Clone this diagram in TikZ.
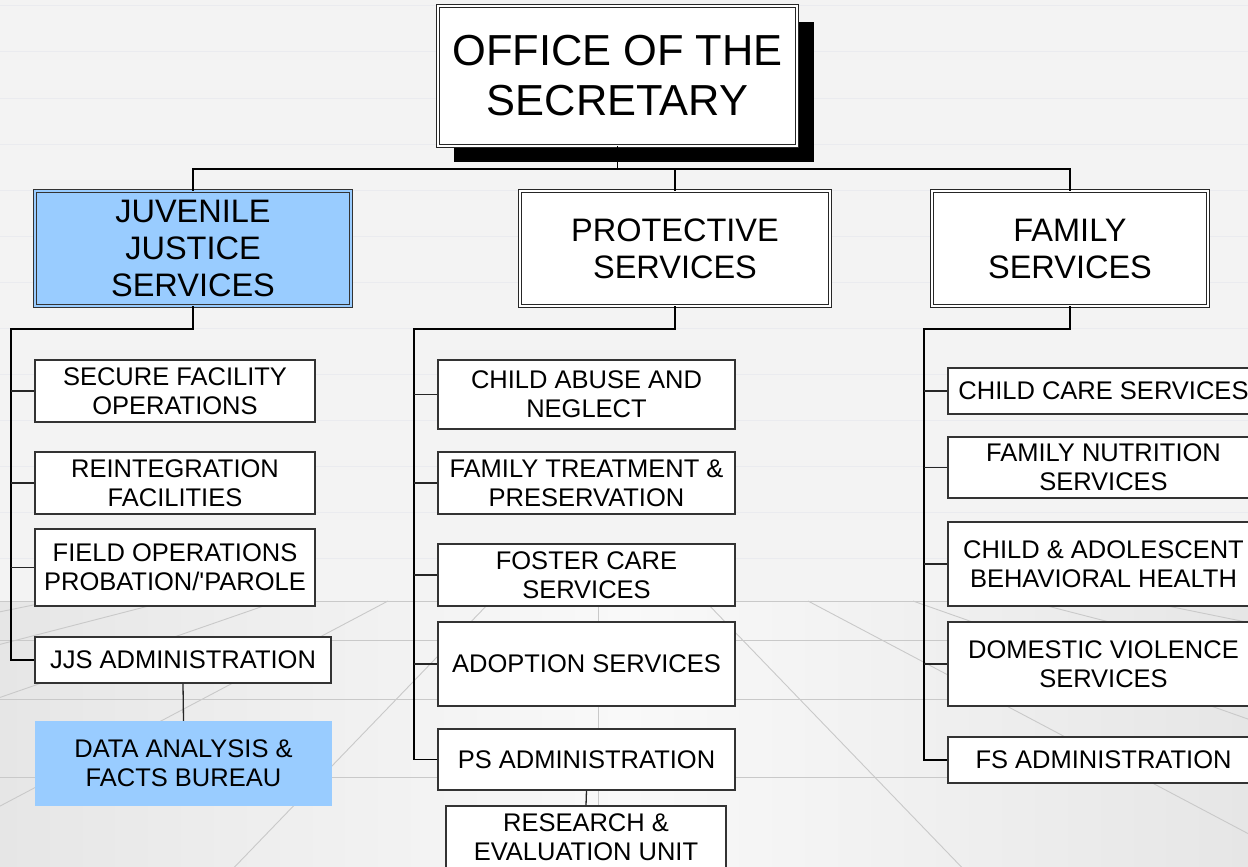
\documentclass[tikz,border=0pt]{standalone}
\usepackage{fontspec}
\setmainfont{Liberation Sans}
\definecolor{bgtop}{HTML}{F3F3F3}
\definecolor{floorside}{HTML}{E6E6E6}
\definecolor{floormid}{HTML}{F9F9F9}
\definecolor{gridc}{HTML}{C9C9C9}
\definecolor{toplinec}{HTML}{EAEBEF}
\definecolor{jjsblue}{HTML}{99CCFF}
\tikzset{
  conn/.style={draw=black, line width=1.4pt},
  tickline/.style={draw=black!85, line width=1.3pt},
  gridline/.style={draw=gridc, line width=0.9pt},
  topline/.style={draw=toplinec, line width=1pt},
  lvlthree/.style={rectangle, draw=black!80, line width=1.1pt, fill=white, inner sep=0pt, align=center, font={\fontsize{25.5}{29}\selectfont}},
  lvltwo/.style={rectangle, draw=black!85, line width=0.8pt, double=white, double distance=2pt, fill=white, inner sep=0pt, align=center, font={\fontsize{32.5}{37}\selectfont}},
  topbox/.style={rectangle, draw=black!85, line width=0.8pt, double=white, double distance=2pt, fill=white, inner sep=0pt, align=center, font={\fontsize{43.4}{50}\selectfont}},
}
\begin{document}
\begin{tikzpicture}[x=1pt,y=-1pt]
\useasboundingbox (0,0) rectangle (1248,867);
\clip (0,0) rectangle (1248,867);
% background
\fill[bgtop] (0,0) rectangle (1248,867);
\foreach \yy in {6,52,98,144,190,236,282,328,374,420,466,512,558}
  \draw[topline] (0,\yy) -- (1248,\yy);
\shade[left color=floorside, right color=floorside, middle color=floormid] (0,601) rectangle (1248,867);
\foreach \yy in {601,640,699,777}
  \draw[gridline] (0,\yy) -- (1248,\yy);
\draw[gridline] (598,601) -- (598,867);
\foreach \d in {-660,-545,-430,-320,-210,-107,107,210,315,430,545,660}
  \draw[gridline] ({598+\d},601) -- ({598+10*\d},1600);

% top box and shadow
\fill[black] (454,22) rectangle (814,162);
\node[topbox, minimum width=359, minimum height=140] (office) at (617.5,76) {OFFICE OF THE\\SECRETARY};

% level 2
\node[lvltwo, fill=jjsblue, double=jjsblue, draw=black!80, minimum width=316, minimum height=115] (jjs) at (193,248.5) {JUVENILE\\JUSTICE\\SERVICES};
\node[lvltwo, minimum width=310, minimum height=115] (ps) at (675,248.5) {PROTECTIVE\\SERVICES};
\node[lvltwo, minimum width=276, minimum height=115] (fs) at (1070,248.5) {FAMILY\\SERVICES};

% level 3: JJS
\node[lvlthree, minimum width=280, minimum height=62] (sfo) at (175,391) {SECURE FACILITY\\OPERATIONS};
\node[lvlthree, minimum width=280, minimum height=62] (rif) at (175,483) {REINTEGRATION\\FACILITIES};
\node[lvlthree, minimum width=280, minimum height=77] (fop) at (175,567.5) {FIELD OPERATIONS\\PROBATION/\textquotesingle PAROLE};
\node[lvlthree, minimum width=296, minimum height=46] (jjsa) at (183,660) {JJS ADMINISTRATION};
\node[rectangle, fill=jjsblue, inner sep=0pt, align=center, font={\fontsize{25.5}{29}\selectfont}, minimum width=297, minimum height=85] (dafb) at (183.5,763.5) {DATA ANALYSIS \&\\FACTS BUREAU};

% level 3: PS
\node[lvlthree, minimum width=297, minimum height=69] (can) at (586.5,394.5) {CHILD ABUSE AND\\NEGLECT};
\node[lvlthree, minimum width=297, minimum height=62] (ftp) at (586.5,483) {FAMILY TREATMENT \&\\PRESERVATION};
\node[lvlthree, minimum width=297, minimum height=62] (fcs) at (586.5,575) {FOSTER CARE\\SERVICES};
\node[lvlthree, minimum width=297, minimum height=84] (ads) at (586.5,664) {ADOPTION SERVICES};
\node[lvlthree, minimum width=297, minimum height=61] (psa) at (586.5,759.5) {PS ADMINISTRATION};
\node[lvlthree, minimum width=280, minimum height=62] (reu) at (586,837) {RESEARCH \&\\EVALUATION UNIT};

% level 3: FS
\node[lvlthree, minimum width=311, minimum height=46] (ccs) at (1103.5,391) {CHILD CARE SERVICES};
\node[lvlthree, minimum width=311, minimum height=61] (fns) at (1103.5,467.5) {FAMILY NUTRITION\\SERVICES};
\node[lvlthree, minimum width=311, minimum height=84] (cabh) at (1103.5,564) {CHILD \& ADOLESCENT\\BEHAVIORAL HEALTH};
\node[lvlthree, minimum width=311, minimum height=84] (dvs) at (1103.5,664) {DOMESTIC VIOLENCE\\SERVICES};
\node[lvlthree, minimum width=311, minimum height=46] (fsa) at (1103.5,760) {FS ADMINISTRATION};

% connectors: top
\coordinate (bus) at (617.5,169);
\draw[conn] (office.south) -- (bus);
\draw[conn] (jjs.north) |- (bus) -| (fs.north);
\draw[conn] (ps.north) -- (ps.north |- bus);

% JJS trunk
\coordinate (jt) at (11,329);
\draw[conn] (jjs.south) |- (jt) -- (jt |- jjsa.west) -- (jjsa.west);
\foreach \n in {sfo,rif,fop}
  \draw[tickline] (jt |- \n.west) -- (\n.west);
\draw[tickline] (jjsa.south) -- (dafb.north);

% PS trunk
\coordinate (pt) at (414,329);
\draw[conn] (ps.south) |- (pt) -- (pt |- psa.west) -- (psa.west);
\foreach \n in {can,ftp,fcs,ads}
  \draw[tickline] (pt |- \n.west) -- (\n.west);
\draw[tickline] (psa.south) -- (reu.north);

% FS trunk
\coordinate (ft) at (924,329);
\draw[conn] (fs.south) |- (ft) -- (ft |- fsa.west) -- (fsa.west);
\foreach \n in {ccs,fns,cabh,dvs}
  \draw[tickline] (ft |- \n.west) -- (\n.west);
\end{tikzpicture}
\end{document}
